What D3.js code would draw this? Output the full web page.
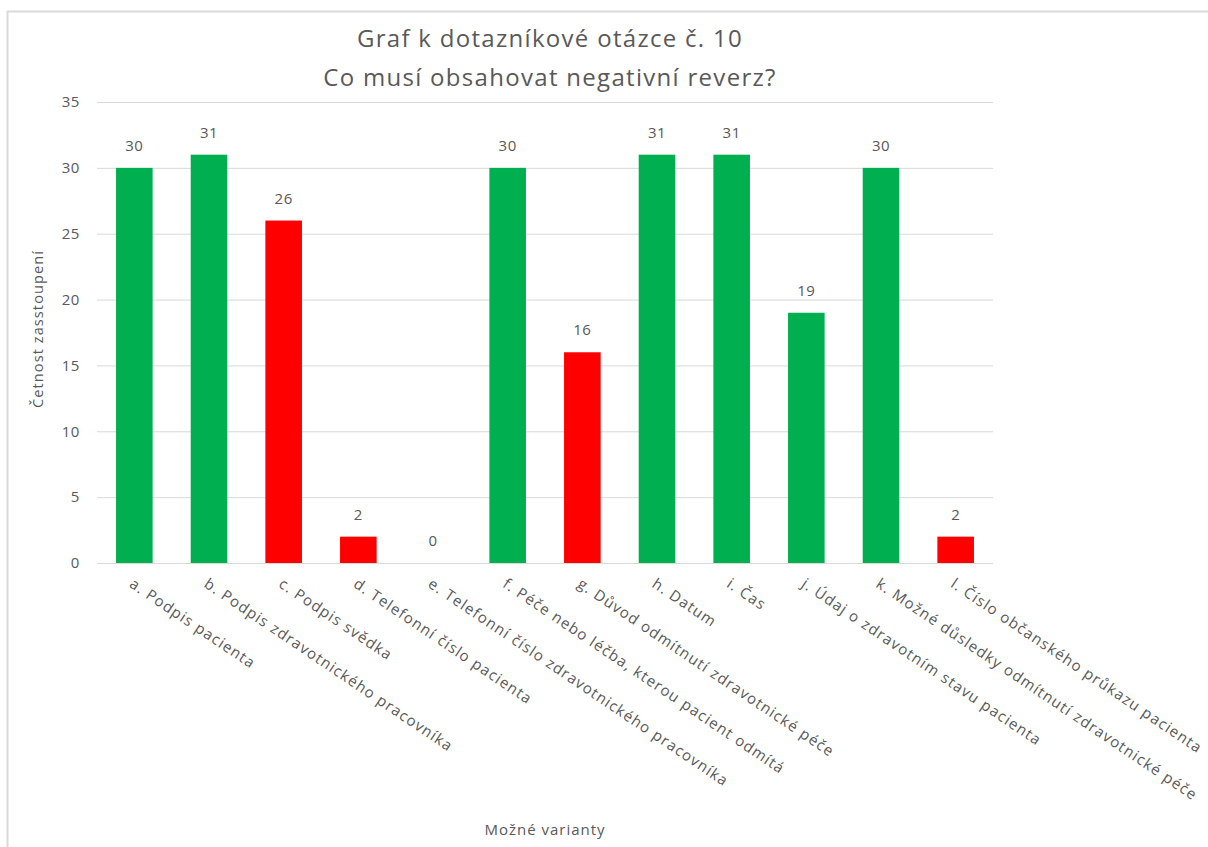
<!DOCTYPE html>
<html><head><meta charset="utf-8">
<script src="https://cdn.jsdelivr.net/npm/d3@7"></script>
<style>body{margin:0;background:#fff;} text{font-family:"Open Sans","Noto Sans",sans-serif;fill:#595959;}</style>
</head><body>
<svg id="c" width="1208" height="847"></svg>
<script>
const categories = ["a. Podpis pacienta","b. Podpis zdravotnického pracovníka","c. Podpis svědka","d. Telefonní číslo pacienta","e. Telefonní číslo zdravotnického pracovníka","f. Péče nebo léčba, kterou pacient odmítá","g. Důvod odmítnutí zdravotnické péče","h. Datum","i. Čas","j. Údaj o zdravotním stavu pacienta","k. Možné důsledky odmítnutí zdravotnické péče","l. Číslo občanského průkazu pacienta"];
const values = [30,31,26,2,0,30,16,31,31,19,30,2];
const correct = [true,true,false,false,false,true,false,true,true,true,true,false];
const yTicks = [0,5,10,15,20,25,30,35];
const titleLines = ["Graf k dotazníkové otázce č. 10","Co musí obsahovat negativní reverz?"];
const yTitle = "Četnost zasstoupení";
const xTitle = "Možné varianty";

const svg = d3.select("#c");
svg.append("rect").attr("x",7.5).attr("y",11.5).attr("width",1220).attr("height",900)
  .attr("fill","#fff").attr("stroke","#d9d9d9").attr("stroke-width",2);

const L=97,R=993,T=102,B=563;
const x = d3.scaleBand().domain(categories).range([L,R]).paddingInner(0.51).paddingOuter(0.255);
const y = d3.scaleLinear().domain([0,35]).range([B,T]);

svg.append("g").selectAll("line").data(yTicks).join("line")
  .attr("x1",L).attr("x2",R).attr("y1",d=>y(d)+0.5).attr("y2",d=>y(d)+0.5)
  .attr("stroke","#d9d9d9").attr("stroke-width",1);

svg.append("g").selectAll("text").data(yTicks).join("text")
  .attr("x",80).attr("y",d=>y(d)).attr("dy","0.35em").attr("text-anchor","end")
  .style("font-size","15px").style("letter-spacing","0.6px").text(d=>d);

svg.append("g").selectAll("rect").data(values).join("rect")
  .attr("x",(d,i)=>x(categories[i])).attr("width",x.bandwidth())
  .attr("y",d=>y(d)).attr("height",d=>B-y(d))
  .attr("fill",(d,i)=>correct[i]?"#00B050":"#FF0000");

svg.append("g").selectAll("text").data(values).join("text")
  .attr("x",(d,i)=>x(categories[i])+x.bandwidth()/2).attr("y",d=>y(d)-17)
  .attr("text-anchor","middle").style("font-size","15px").style("letter-spacing","0.5px").text(d=>d);

svg.append("g").selectAll("text").data(categories).join("text")
  .attr("transform",d=>`translate(${x(d)+x.bandwidth()/2-3},${B+19}) rotate(34)`)
  .attr("text-anchor","start").attr("dy","0.35em").style("font-size","15px")
  .style("letter-spacing","1.15px").text(d=>d);

svg.append("g").selectAll("text").data(titleLines).join("text")
  .attr("x",550).attr("y",(d,i)=>47+i*39).attr("text-anchor","middle")
  .style("font-size","24px").style("letter-spacing","1.3px").text(d=>d);

svg.append("text").attr("transform","translate(43,329) rotate(-90)").attr("text-anchor","middle")
  .style("font-size","14.5px").style("letter-spacing","1.1px").text(yTitle);
svg.append("text").attr("x",545).attr("y",835).attr("text-anchor","middle")
  .style("font-size","15px").style("letter-spacing","1px").text(xTitle);
</script>
</body></html>
